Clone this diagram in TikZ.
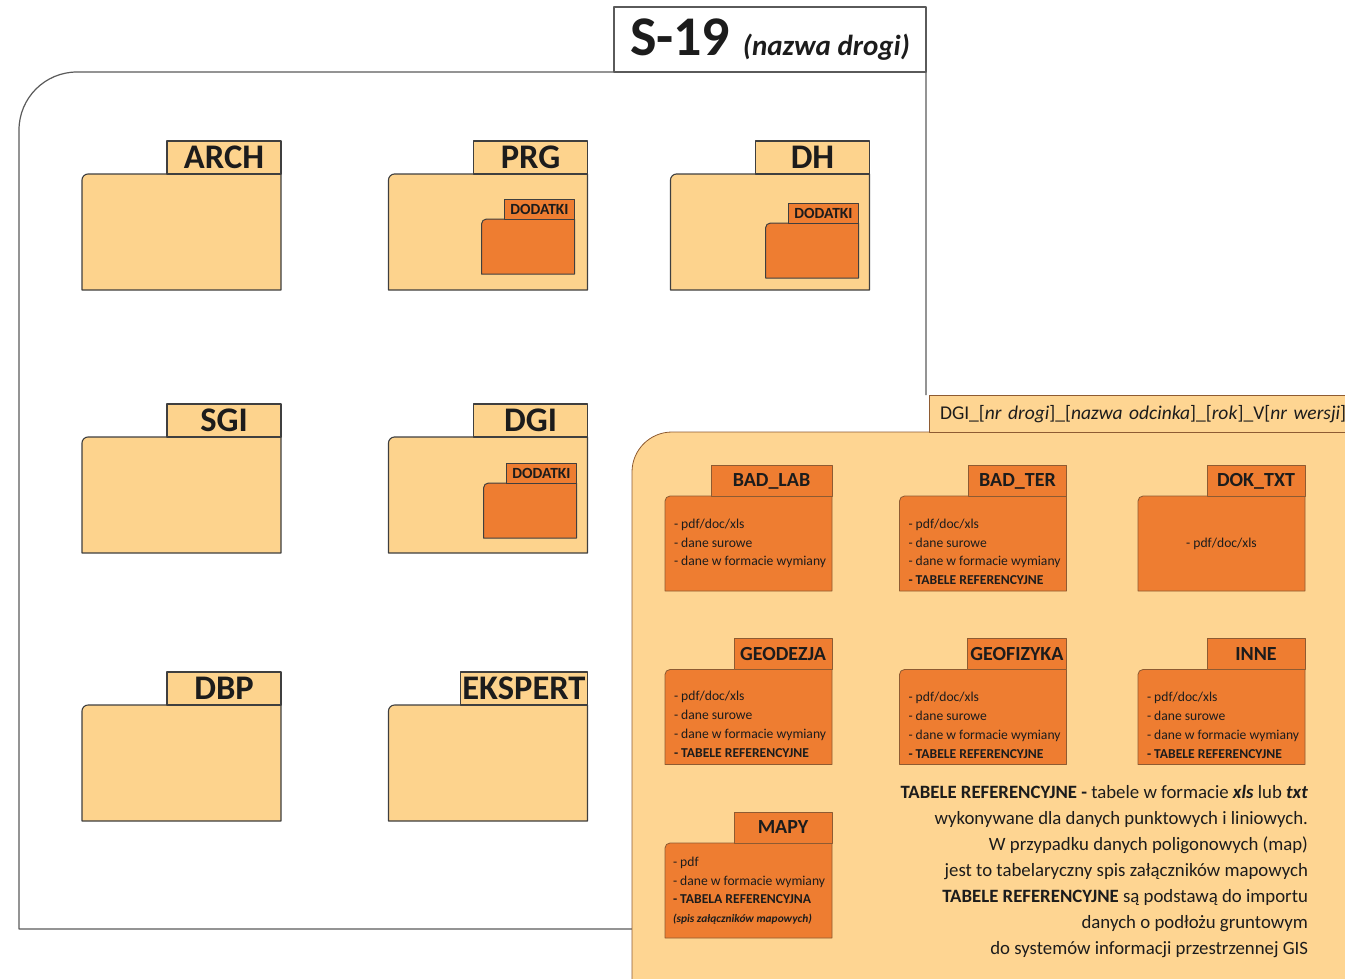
\documentclass[tikz,border=0pt]{standalone}
\usepackage{fontspec}
\setmainfont{Carlito}
\usetikzlibrary{calc, positioning}

\definecolor{lightfolder}{HTML}{FDD38D}
\definecolor{panelfill}{HTML}{FED592}
\definecolor{orangefolder}{HTML}{EE7D31}
\definecolor{darkline}{HTML}{3F3F3F}
\definecolor{brownline}{HTML}{8E5B32}
\definecolor{frameline}{HTML}{5A5A5A}
\definecolor{textcol}{HTML}{1C1C1C}

\begin{document}
\begin{tikzpicture}[
            x=1pt, y=-1pt,
            line join=round,
            outer sep=0pt,
            text=textcol,
            folderpath/.style={to path={-- ([yshift=-#1]\tikztostart |- \tikztotarget) arc[start angle=180, end angle=90, radius=#1] -- (\tikztotarget) -- (\tikztotarget |- \tikztostart) -- cycle}},
            folderpath/.default=6pt,
            bigbody/.style={rectangle, minimum width=199pt, minimum height=116pt, inner sep=0pt},
            bigline/.style={draw=darkline, fill=lightfolder, line width=1.1pt},
            bigtab/.style={draw=darkline, fill=lightfolder, line width=1.1pt, minimum width=114pt, minimum height=33pt, inner xsep=3pt, inner ysep=0pt, text height=21pt, text depth=0pt, font=\fontsize{34.5}{34.5}\selectfont\bfseries},
            subbody/.style={rectangle, minimum width=93pt, minimum height=55pt, inner sep=0pt},
            subline/.style={draw=darkline, fill=orangefolder, line width=1pt},
            subtab/.style={draw=darkline, fill=orangefolder, line width=1pt, minimum width=70pt, minimum height=20pt, inner sep=0pt, text height=10pt, text depth=0pt, font=\fontsize{15.5}{15.5}\selectfont\bfseries},
            orbody/.style={rectangle, minimum width=167pt, minimum height=95pt, inner sep=0pt},
            orline/.style={draw=brownline, fill=orangefolder, line width=0.8pt},
            ortab/.style={draw=brownline, fill=orangefolder, line width=0.8pt, minimum width=98pt, minimum height=31pt, inner xsep=3pt, inner ysep=0pt, text height=12.9pt, text depth=0pt, font=\fontsize{20}{20}\selectfont\bfseries},
            items/.style={inner sep=0pt, align=left, font=\fontsize{13.6}{18.7}\selectfont},
            note/.style={inner sep=0pt, align=right, font=\fontsize{18.8}{26}\selectfont}
        ]
        \useasboundingbox (0,0) rectangle (1345,978);
        \clip (0,0) rectangle (1345,978);

        % Road frame
        \node [rectangle, minimum width=907pt, minimum height=857pt] (frame) at (472.5,500.5) {};
        \node [draw=frameline, fill=white, line width=1.2pt, minimum width=312pt, minimum height=65pt, inner sep=0pt, above left=0pt of frame.north east] (title)
            {\fontsize{56}{56}\selectfont\bfseries S-19 \fontsize{29}{29}\selectfont\itshape (nazwa drogi)};
        \node [rectangle, minimum width=768pt, minimum height=588pt] (panel) at (1016,726) {};
        \draw[draw=frameline, line width=1.2pt] (frame.south west -| panel.west) -- (frame.south west) -- ([yshift=-58pt]frame.north west) arc[start angle=180, end angle=90, radius=58pt] -- (frame.north east) -- (frame.east |- 0,395);

        % Folders of the road
        \node [bigbody] (arch) at (181.5,232) {};
        \draw[bigline] (arch.south west) to[folderpath] (arch.north east);
        \node [bigtab, above left=0pt of arch.north east] (arch_tab) {ARCH};

        \node [bigbody] (prg) at (488,232) {};
        \draw[bigline] (prg.south west) to[folderpath] (prg.north east);
        \node [bigtab, above left=0pt of prg.north east] (prg_tab) {PRG};

        \node [bigbody] (dh) at (770,232) {};
        \draw[bigline] (dh.south west) to[folderpath] (dh.north east);
        \node [bigtab, above left=0pt of dh.north east] (dh_tab) {DH};

        \node [bigbody] (sgi) at (181.5,495) {};
        \draw[bigline] (sgi.south west) to[folderpath] (sgi.north east);
        \node [bigtab, above left=0pt of sgi.north east] (sgi_tab) {SGI};

        \node [bigbody] (dgi) at (488,495) {};
        \draw[bigline] (dgi.south west) to[folderpath] (dgi.north east);
        \node [bigtab, above left=0pt of dgi.north east] (dgi_tab) {DGI};

        \node [bigbody] (dbp) at (181.5,763) {};
        \draw[bigline] (dbp.south west) to[folderpath] (dbp.north east);
        \node [bigtab, above left=0pt of dbp.north east] (dbp_tab) {DBP};

        \node [bigbody] (ekspert) at (488,763) {};
        \draw[bigline] (ekspert.south west) to[folderpath] (ekspert.north east);
        \node [bigtab, inner xsep=2pt, above left=0pt of ekspert.north east] (ekspert_tab) {EKSPERT};

        % DODATKI subfolders
        \node [subbody, above left=16pt and 13pt of prg.south east] (prg_sub) {};
        \draw[subline] (prg_sub.south west) to[folderpath=5pt] (prg_sub.north east);
        \node [subtab, above left=0pt of prg_sub.north east] (prg_sub_tab) {DODATKI};

        \node [subbody, above left=12pt and 11pt of dh.south east] (dh_sub) {};
        \draw[subline] (dh_sub.south west) to[folderpath=5pt] (dh_sub.north east);
        \node [subtab, above left=0pt of dh_sub.north east] (dh_sub_tab) {DODATKI};

        \node [subbody, above left=15pt and 11pt of dgi.south east] (dgi_sub) {};
        \draw[subline] (dgi_sub.south west) to[folderpath=5pt] (dgi_sub.north east);
        \node [subtab, above left=0pt of dgi_sub.north east] (dgi_sub_tab) {DODATKI};

        % DGI folder contents
        \draw[draw=brownline, fill=panelfill, line width=0.8pt] (panel.south west) to[folderpath=40pt] (panel.north east);
        \node [draw=brownline, fill=panelfill, line width=0.8pt, minimum height=37pt, text width=449pt, align=left, inner xsep=11pt, inner ysep=0pt, text height=12.5pt, text depth=0pt,
            font=\fontsize{19.5}{19.5}\selectfont, above left=0pt of panel.north east] (panel_tab)
            {DGI\_[\textit{nr drogi}]\_[\textit{nazwa odcinka}]\_[\textit{rok}]\_V[\textit{nr wersji}]};

        \node [orbody] (bad_lab) at (748.5,543.5) {};
        \draw[orline] (bad_lab.south west) to[folderpath=5pt] (bad_lab.north east);
        \node [ortab, minimum width=121pt, above left=0pt of bad_lab.north east] (bad_lab_tab) {BAD\_LAB};
        \node [items, below right=23pt and 9pt of bad_lab.north west] (bad_lab_txt) {- pdf/doc/xls\\- dane surowe\\- dane w formacie wymiany};

        \node [orbody] (bad_ter) at (983,543.5) {};
        \draw[orline] (bad_ter.south west) to[folderpath=5pt] (bad_ter.north east);
        \node [ortab, above left=0pt of bad_ter.north east] (bad_ter_tab) {BAD\_TER};
        \node [items, below right=23pt and 9pt of bad_ter.north west] (bad_ter_txt) {- pdf/doc/xls\\- dane surowe\\- dane w formacie wymiany\\\textbf{- TABELE REFERENCYJNE}};

        \node [orbody] (dok_txt) at (1221.5,543.5) {};
        \draw[orline] (dok_txt.south west) to[folderpath=5pt] (dok_txt.north east);
        \node [ortab, above left=0pt of dok_txt.north east] (dok_txt_tab) {DOK\_TXT};
        \node [items] (dok_txt_txt) at (dok_txt.center) {- pdf/doc/xls};

        \node [orbody] (geodezja) at (748.5,717) {};
        \draw[orline] (geodezja.south west) to[folderpath=5pt] (geodezja.north east);
        \node [ortab, above left=0pt of geodezja.north east] (geodezja_tab) {GEODEZJA};
        \node [items, below right=22pt and 9pt of geodezja.north west] (geodezja_txt) {- pdf/doc/xls\\- dane surowe\\- dane w formacie wymiany\\\textbf{- TABELE REFERENCYJNE}};

        \node [orbody] (geofizyka) at (983,717) {};
        \draw[orline] (geofizyka.south west) to[folderpath=5pt] (geofizyka.north east);
        \node [ortab, above left=0pt of geofizyka.north east] (geofizyka_tab) {GEOFIZYKA};
        \node [items, below right=23pt and 9pt of geofizyka.north west] (geofizyka_txt) {- pdf/doc/xls\\- dane surowe\\- dane w formacie wymiany\\\textbf{- TABELE REFERENCYJNE}};

        \node [orbody] (inne) at (1221.5,717) {};
        \draw[orline] (inne.south west) to[folderpath=5pt] (inne.north east);
        \node [ortab, above left=0pt of inne.north east] (inne_tab) {INNE};
        \node [items, below right=23pt and 9pt of inne.north west] (inne_txt) {- pdf/doc/xls\\- dane surowe\\- dane w formacie wymiany\\\textbf{- TABELE REFERENCYJNE}};

        \node [orbody] (mapy) at (748.5,890.5) {};
        \draw[orline] (mapy.south west) to[folderpath=5pt] (mapy.north east);
        \node [ortab, above left=0pt of mapy.north east] (mapy_tab) {MAPY};
        \node [items, below right=14pt and 8pt of mapy.north west] (mapy_txt) {- pdf\\- dane w formacie wymiany\\\textbf{- TABELA REFERENCYJNA}\\{\fontsize{11.4}{12}\selectfont\bfseries\itshape (spis załączników mapowych)}};

        % Reference tables note
        \node [note, anchor=north east] (ref_note) at (1308,785)
            {\textbf{TABELE REFERENCYJNE -} tabele w formacie \textbf{\textit{xls}} lub \textbf{\textit{txt}}\\
            wykonywane dla danych punktowych i liniowych.\\
            W przypadku danych poligonowych (map)\\
            jest to tabelaryczny spis załączników mapowych\\
            \textbf{TABELE REFERENCYJNE} są podstawą do importu\\
            danych o podłożu gruntowym\\
            do systemów informacji przestrzennej GIS};
    \end{tikzpicture}
\end{document}
